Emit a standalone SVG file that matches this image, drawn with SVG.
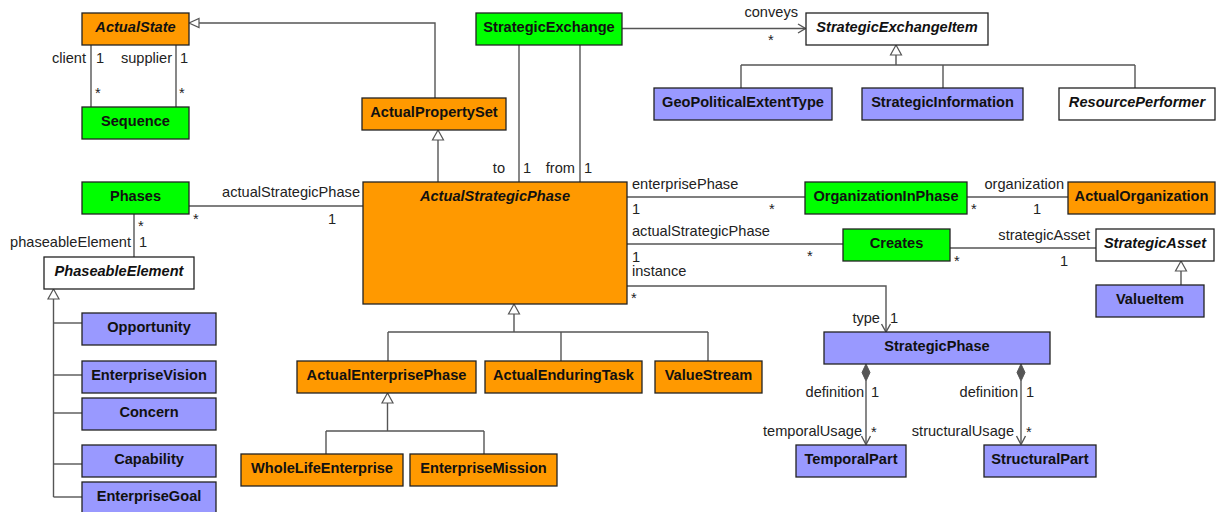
<svg xmlns="http://www.w3.org/2000/svg" width="1216" height="512" viewBox="0 0 1216 512">
<style>
.n rect{stroke:#222;stroke-width:1.3}
.o{fill:#FF9900}.g{fill:#00FF00}.b{fill:#9999FF}.w{fill:#FFFFFF}
.t{font-family:"Liberation Sans",Arial,sans-serif;font-size:14.6px;font-weight:bold;fill:#111;text-anchor:middle}
.i{font-style:italic}
.c line,.c polyline,.c path{stroke:#555;stroke-width:1.4;fill:none}
.c .tri{fill:#fff;stroke:#555;stroke-width:1.2}
.c .dia{fill:#555;stroke:#555;stroke-width:1}
.l{font-family:"Liberation Sans",Arial,sans-serif;font-size:14.6px;fill:#222}
.e{text-anchor:end}
</style>
<rect width="1216" height="512" fill="#fff"/>
<g id="connectors" class="c">
<line x1="91" y1="45" x2="91" y2="107"/>
<line x1="176" y1="45" x2="176" y2="107"/>
<polyline points="435,98 435,23 199,23"/>
<polygon class="tri" points="189,23 199,18.5 199,27.5"/>
<line x1="438" y1="182" x2="438" y2="140"/>
<polygon class="tri" points="438,130 432.5,140 443.5,140"/>
<line x1="622" y1="28.5" x2="805" y2="28.5"/>
<polyline points="798,24 805.5,28.5 798,33"/>
<line x1="519" y1="45" x2="519" y2="182"/>
<line x1="580" y1="45" x2="580" y2="182"/>
<polygon class="tri" points="896,45 890.5,55 901.5,55"/>
<line x1="896" y1="55" x2="896" y2="65"/>
<line x1="741" y1="65" x2="1135" y2="65"/>
<line x1="741" y1="65" x2="741" y2="88"/>
<line x1="943" y1="65" x2="943" y2="88"/>
<line x1="1135" y1="65" x2="1135" y2="88"/>
<line x1="189" y1="206" x2="363" y2="206"/>
<line x1="134" y1="214" x2="134" y2="257"/>
<polygon class="tri" points="53.5,289 48,299 59,299"/>
<line x1="53.5" y1="299" x2="53.5" y2="497"/>
<line x1="53.5" y1="323" x2="82" y2="323"/>
<line x1="53.5" y1="375" x2="82" y2="375"/>
<line x1="53.5" y1="413" x2="82" y2="413"/>
<line x1="53.5" y1="464" x2="82" y2="464"/>
<line x1="53.5" y1="497" x2="82" y2="497"/>
<polygon class="tri" points="514,304 508.5,314 519.5,314"/>
<line x1="514" y1="314" x2="514" y2="332"/>
<line x1="388" y1="332" x2="708" y2="332"/>
<line x1="388" y1="332" x2="388" y2="361"/>
<line x1="561" y1="332" x2="561" y2="361"/>
<line x1="708" y1="332" x2="708" y2="361"/>
<polygon class="tri" points="387.5,393 382,403 393,403"/>
<line x1="387.5" y1="403" x2="387.5" y2="431"/>
<line x1="326" y1="431" x2="484" y2="431"/>
<line x1="326" y1="431" x2="326" y2="454"/>
<line x1="484" y1="431" x2="484" y2="454"/>
<line x1="627" y1="197" x2="805" y2="197"/>
<line x1="967" y1="197" x2="1068" y2="197"/>
<line x1="627" y1="244" x2="843" y2="244"/>
<line x1="950" y1="248" x2="1096" y2="248"/>
<polyline points="627,286 886,286 886,332"/>
<polyline points="881.5,324 886,332 890.5,324"/>
<polygon class="tri" points="1181,261 1175.5,271 1186.5,271"/>
<line x1="1181" y1="271" x2="1181" y2="285"/>
<polygon class="dia" points="866,364 870,372.5 866,381 862,372.5"/>
<line x1="866" y1="381" x2="866" y2="444"/>
<polyline points="861.5,436 866,444.5 870.5,436"/>
<polygon class="dia" points="1021,364 1025,372.5 1021,381 1017,372.5"/>
<line x1="1021" y1="381" x2="1021" y2="444"/>
<polyline points="1016.5,436 1021,444.5 1025.5,436"/>
</g>
<g id="labels">
<text class="l e" x="86" y="63">client</text>
<text class="l" x="96" y="63">1</text>
<text class="l e" x="172" y="63">supplier</text>
<text class="l" x="180" y="63">1</text>
<text class="l" x="95" y="98">*</text>
<text class="l" x="179" y="98">*</text>
<text class="l e" x="798" y="17">conveys</text>
<text class="l" x="768" y="45">*</text>
<text class="l e" x="505" y="173">to</text>
<text class="l" x="523" y="173">1</text>
<text class="l e" x="575" y="173">from</text>
<text class="l" x="584" y="173">1</text>
<text class="l e" x="360" y="197">actualStrategicPhase</text>
<text class="l" x="193" y="224">*</text>
<text class="l" x="328" y="224">1</text>
<text class="l" x="138" y="231">*</text>
<text class="l e" x="131" y="247">phaseableElement</text>
<text class="l" x="139" y="247">1</text>
<text class="l" x="632" y="189">enterprisePhase</text>
<text class="l" x="632" y="214">1</text>
<text class="l" x="769" y="214">*</text>
<text class="l e" x="1064" y="189">organization</text>
<text class="l" x="971" y="214">*</text>
<text class="l" x="1033" y="214">1</text>
<text class="l" x="632" y="235.5">actualStrategicPhase</text>
<text class="l" x="632" y="261.5">1</text>
<text class="l" x="807" y="261">*</text>
<text class="l e" x="1090" y="240">strategicAsset</text>
<text class="l" x="954" y="266">*</text>
<text class="l" x="1060" y="266">1</text>
<text class="l" x="632" y="276">instance</text>
<text class="l" x="631" y="303">*</text>
<text class="l e" x="880" y="323">type</text>
<text class="l" x="890" y="323">1</text>
<text class="l e" x="864" y="397">definition</text>
<text class="l" x="871" y="397">1</text>
<text class="l e" x="862" y="436">temporalUsage</text>
<text class="l" x="871" y="437">*</text>
<text class="l e" x="1018" y="397">definition</text>
<text class="l" x="1026" y="397">1</text>
<text class="l e" x="1014" y="436">structuralUsage</text>
<text class="l" x="1026" y="437">*</text>
</g>
<g id="ActualState" class="n"><rect class="o" x="82" y="13" width="107" height="32"/><text class="t i" x="135.5" y="31.5">ActualState</text></g>
<g id="Sequence" class="n"><rect class="g" x="82" y="107" width="107" height="32"/><text class="t" x="135.5" y="125.5">Sequence</text></g>
<g id="ActualPropertySet" class="n"><rect class="o" x="362" y="98" width="144" height="32"/><text class="t" x="434" y="116.5">ActualPropertySet</text></g>
<g id="StrategicExchange" class="n"><rect class="g" x="476" y="13" width="146" height="32"/><text class="t" x="549" y="31.5">StrategicExchange</text></g>
<g id="StrategicExchangeItem" class="n"><rect class="w" x="806" y="13" width="182" height="32"/><text class="t i" x="897" y="31.5">StrategicExchangeItem</text></g>
<g id="GeoPoliticalExtentType" class="n"><rect class="b" x="654" y="88" width="178" height="32"/><text class="t" x="743" y="106.5">GeoPoliticalExtentType</text></g>
<g id="StrategicInformation" class="n"><rect class="b" x="862" y="88" width="161" height="32"/><text class="t" x="942.5" y="106.5">StrategicInformation</text></g>
<g id="ResourcePerformer" class="n"><rect class="w" x="1059" y="88" width="156" height="32"/><text class="t i" x="1137" y="106.5">ResourcePerformer</text></g>
<g id="Phases" class="n"><rect class="g" x="82" y="182" width="107" height="32"/><text class="t" x="135.5" y="200.5">Phases</text></g>
<g id="ActualStrategicPhase" class="n"><rect class="o" x="363" y="182" width="264" height="122"/><text class="t i" x="495" y="200.5">ActualStrategicPhase</text></g>
<g id="OrganizationInPhase" class="n"><rect class="g" x="805" y="182" width="162" height="32"/><text class="t" x="886" y="200.5">OrganizationInPhase</text></g>
<g id="ActualOrganization" class="n"><rect class="o" x="1068" y="182" width="147" height="32"/><text class="t" x="1141.5" y="200.5">ActualOrganization</text></g>
<g id="Creates" class="n"><rect class="g" x="843" y="229" width="107" height="32"/><text class="t" x="896.5" y="247.5">Creates</text></g>
<g id="StrategicAsset" class="n"><rect class="w" x="1096" y="229" width="118" height="32"/><text class="t i" x="1155" y="247.5">StrategicAsset</text></g>
<g id="ValueItem" class="n"><rect class="b" x="1096" y="285" width="108" height="32"/><text class="t" x="1150" y="303.5">ValueItem</text></g>
<g id="PhaseableElement" class="n"><rect class="w" x="44" y="257" width="150" height="32"/><text class="t i" x="119" y="275.5">PhaseableElement</text></g>
<g id="Opportunity" class="n"><rect class="b" x="82" y="313" width="134" height="32"/><text class="t" x="149" y="331.5">Opportunity</text></g>
<g id="EnterpriseVision" class="n"><rect class="b" x="82" y="361" width="134" height="32"/><text class="t" x="149" y="379.5">EnterpriseVision</text></g>
<g id="Concern" class="n"><rect class="b" x="82" y="398" width="134" height="32"/><text class="t" x="149" y="416.5">Concern</text></g>
<g id="Capability" class="n"><rect class="b" x="82" y="445" width="134" height="32"/><text class="t" x="149" y="463.5">Capability</text></g>
<g id="EnterpriseGoal" class="n"><rect class="b" x="82" y="482" width="134" height="32"/><text class="t" x="149" y="500.5">EnterpriseGoal</text></g>
<g id="ActualEnterprisePhase" class="n"><rect class="o" x="297" y="361" width="179" height="32"/><text class="t" x="386.5" y="379.5">ActualEnterprisePhase</text></g>
<g id="ActualEnduringTask" class="n"><rect class="o" x="485" y="361" width="157" height="32"/><text class="t" x="563.5" y="379.5">ActualEnduringTask</text></g>
<g id="ValueStream" class="n"><rect class="o" x="655" y="361" width="107" height="32"/><text class="t" x="708.5" y="379.5">ValueStream</text></g>
<g id="WholeLifeEnterprise" class="n"><rect class="o" x="241" y="454" width="162" height="32"/><text class="t" x="322" y="472.5">WholeLifeEnterprise</text></g>
<g id="EnterpriseMission" class="n"><rect class="o" x="410" y="454" width="147" height="32"/><text class="t" x="483.5" y="472.5">EnterpriseMission</text></g>
<g id="StrategicPhase" class="n"><rect class="b" x="824" y="332" width="226" height="32"/><text class="t" x="937" y="350.5">StrategicPhase</text></g>
<g id="TemporalPart" class="n"><rect class="b" x="796" y="445" width="110" height="32"/><text class="t" x="851" y="463.5">TemporalPart</text></g>
<g id="StructuralPart" class="n"><rect class="b" x="984" y="445" width="112" height="32"/><text class="t" x="1040" y="463.5">StructuralPart</text></g>
</svg>
